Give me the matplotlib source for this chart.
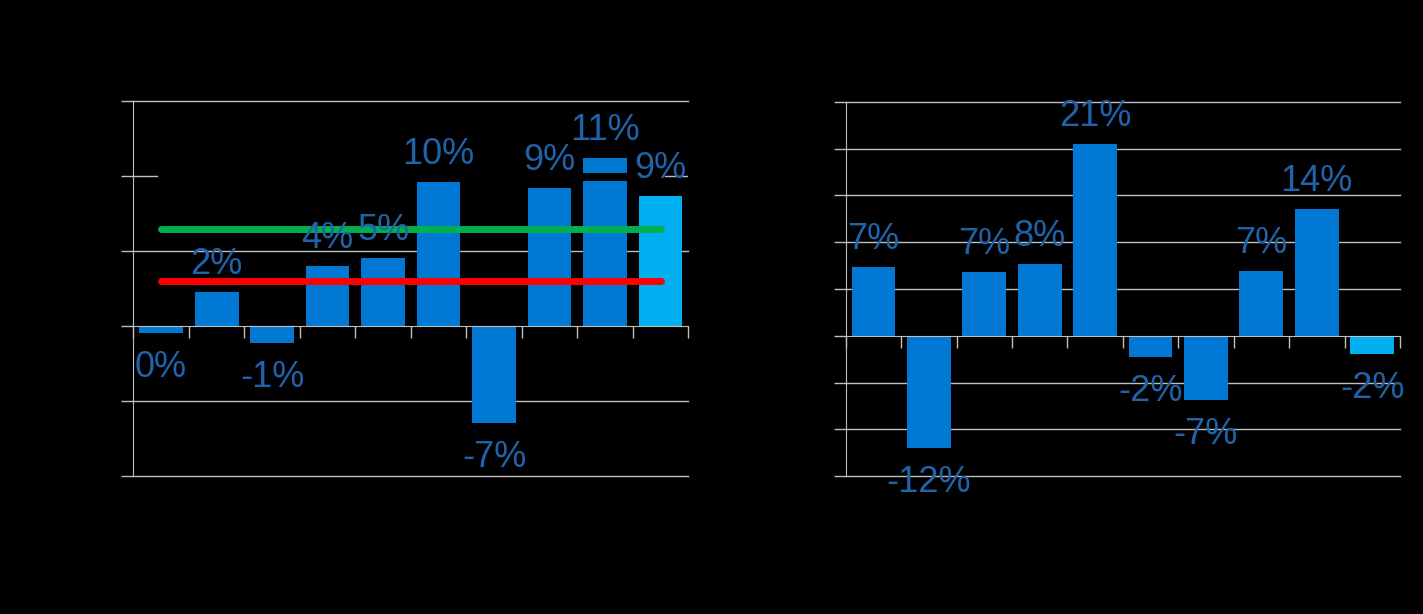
import matplotlib
matplotlib.use('Agg')
import matplotlib.pyplot as plt
import numpy as np

plt.rcParams['font.family'] = ['Liberation Sans', 'DejaVu Sans']

# left chart
left_vals = [-0.47, 2.3, -1.13, 4.0, 4.55, 9.64, -6.47, 9.24, 9.69, 8.69]
left_labels = ['0%', '2%', '-1%', '4%', '5%', '10%', '-7%', '9%', '11%', '9%']
left_gap = [0, 0, 0, 0, 0, 0, 0, 0, 0.55, 0]
left_top = [0, 0, 0, 0, 0, 0, 0, 0, 0.96, 0]
green_level = 6.49
red_level = 3.02

# right chart
right_vals = [7.37, -12.0, 6.84, 7.69, 20.5, -2.3, -6.9, 6.94, 13.6, -1.96]
right_labels = ['7%', '-12%', '7%', '8%', '21%', '-2%', '-7%', '7%', '14%', '-2%']

BAR = '#0078D4'
LIGHT = '#00B0F0'
TXT = '#1F63AA'
GRID = '#BFBFBF'


def setup(ax, ylo, yhi, n, skip=None):
    ax.set_facecolor('black')
    ax.set_xlim(0, n)
    ax.set_ylim(ylo, yhi)
    for y in np.arange(ylo, yhi + 1, 5):
        if y == 0:
            continue
        if skip is not None and y == skip:
            ax.axhline(y, xmax=0.043, color=GRID, lw=1, zorder=0)
            ax.axhline(y, xmin=0.958, color=GRID, lw=1, zorder=0)
        else:
            ax.axhline(y, color=GRID, lw=1, zorder=0, clip_on=False)
    for s in ['top', 'right']:
        ax.spines[s].set_visible(False)
    ax.spines['bottom'].set_position(('data', 0))
    ax.spines['bottom'].set_color(GRID)
    ax.spines['left'].set_color(GRID)
    ax.spines['bottom'].set_zorder(4)
    ax.set_xticks(np.arange(0, n + 1))
    ax.set_yticks(np.arange(ylo, yhi + 1, 5))
    ax.tick_params(axis='both', colors=GRID, length=8.4, width=1,
                   labelleft=False, labelbottom=False)
    ax.tick_params(axis='y', direction='out')
    ax.tick_params(axis='x', direction='out')


def label_bars(ax, xs, tops, labels):
    for x, v, t in zip(xs, tops, labels):
        if v >= 0:
            ax.annotate(t, (x, v), xytext=(0, 13), textcoords='offset points',
                        ha='center', va='baseline', fontsize=26, color=TXT, zorder=6)
        else:
            ax.annotate(t, (x, v), xytext=(0, -12), textcoords='offset points',
                        ha='center', va='top', fontsize=26, color=TXT, zorder=6)


fig = plt.figure(figsize=(14.23, 6.14), dpi=100, facecolor='black')

ax1 = fig.add_axes([0.0937, 0.2243, 0.390, 0.6107])
setup(ax1, -10, 15, 10, skip=10)
x = np.arange(10) + 0.5
cols = [BAR] * 9 + [LIGHT]
ax1.bar(x, left_vals, width=0.79, color=cols, zorder=2)
base2 = np.array(left_vals) + np.array(left_gap)
ax1.bar(x, left_gap, width=0.79, bottom=left_vals, color='black', zorder=2)
ax1.bar(x, left_top, width=0.79, bottom=base2, color=BAR, zorder=2)
ax1.plot([x[0], x[-1]], [green_level, green_level], color='#00B050', lw=5,
         solid_capstyle='round', zorder=5)
ax1.plot([x[0], x[-1]], [red_level, red_level], color='#FF0000', lw=5,
         solid_capstyle='round', zorder=5)
tops1 = np.array(left_vals) + np.array(left_gap) + np.array(left_top)
label_bars(ax1, x, tops1, left_labels)

ax2 = fig.add_axes([0.5943, 0.2244, 0.3895, 0.6096])
setup(ax2, -15, 25, 10)
ax2.bar(x, right_vals, width=0.79, color=cols, zorder=2)
label_bars(ax2, x, right_vals, right_labels)

plt.savefig('out.png', dpi=100, facecolor='black')
plt.close()
